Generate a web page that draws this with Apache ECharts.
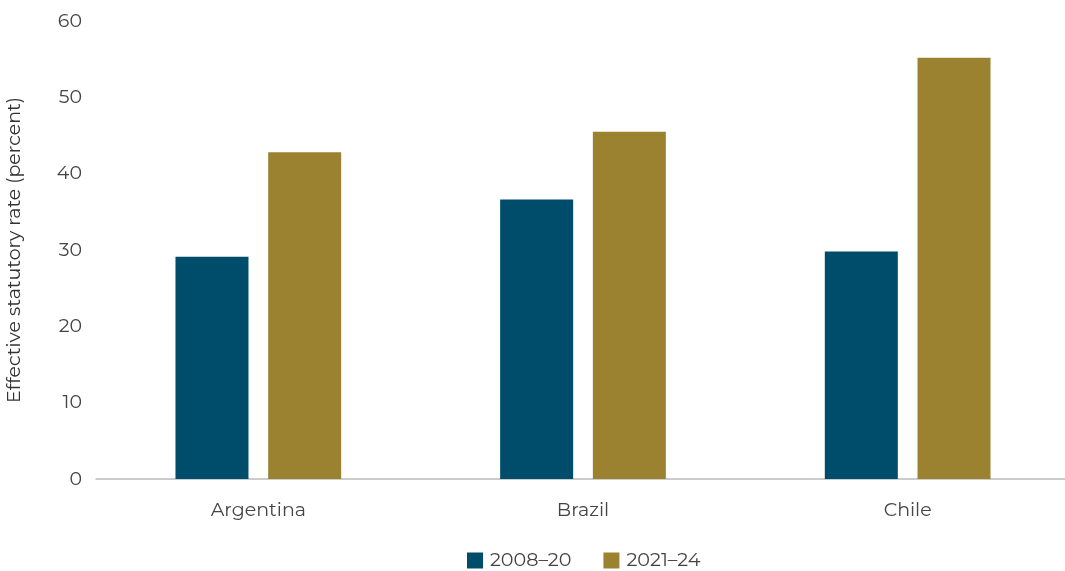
<!DOCTYPE html>
<html><head><meta charset="utf-8">
<script src="https://cdn.jsdelivr.net/npm/echarts@6/dist/echarts.min.js"></script>
<style>html,body{margin:0;padding:0;background:#fff}#c{width:1065px;height:571px}</style>
</head><body><div id="c"></div>
<script>
const categories = ['Argentina', 'Brazil', 'Chile'];
const series2008_20 = [29.1, 36.6, 29.8];
const series2021_24 = [42.8, 45.5, 55.2];
const seriesNames = ['2008–20', '2021–24'];
const yTicks = [0, 10, 20, 30, 40, 50, 60];

const font = 'Montserrat, "Open Sans", "Noto Sans", sans-serif';
const chart = echarts.init(document.getElementById('c'), null, {renderer: 'canvas'});
chart.setOption({
  animation: false,
  textStyle: {fontFamily: font},
  grid: {left: 96, width: 974, top: 21, bottom: 92, outerBoundsMode: 'none', containLabel: false},
  legend: {
    bottom: -4, left: 462, itemWidth: 16, itemHeight: 16, itemGap: 32,
    icon: 'rect',
    textStyle: {fontFamily: font, fontSize: 19.2, color: '#444', padding: [0, 0, 0, 2]},
    data: seriesNames
  },
  xAxis: {
    type: 'category', data: categories,
    axisLine: {lineStyle: {color: '#bbb', width: 1.5}},
    axisTick: {show: false},
    axisLabel: {fontFamily: font, fontSize: 19, color: '#444', margin: 22}
  },
  yAxis: {
    type: 'value', min: yTicks[0], max: yTicks[yTicks.length - 1], interval: 10,
    name: 'Effective statutory rate (percent)',
    nameLocation: 'middle', nameGap: 72, nameRotate: 90,
    nameTextStyle: {fontFamily: font, fontSize: 19, color: '#333'},
    axisLine: {show: false}, axisTick: {show: false}, splitLine: {show: false},
    axisLabel: {fontFamily: font, fontSize: 19, color: '#444', margin: 14}
  },
  series: [
    {name: seriesNames[0], type: 'bar', data: series2008_20, barWidth: 73, barGap: '27%',
     itemStyle: {color: '#004C6B'}},
    {name: seriesNames[1], type: 'bar', data: series2021_24, barWidth: 73,
     itemStyle: {color: '#9A8230'}}
  ]
});
</script></body></html>
